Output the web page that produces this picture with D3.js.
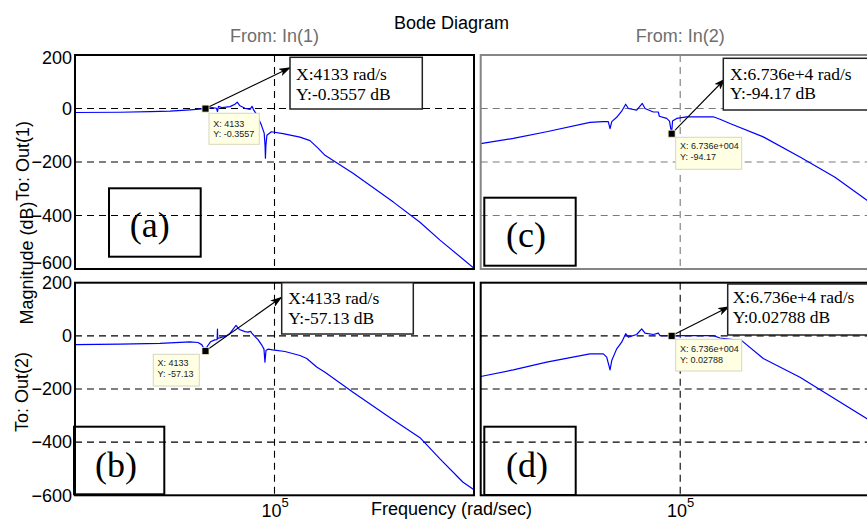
<!DOCTYPE html>
<html>
<head>
<meta charset="utf-8">
<script src="https://cdn.jsdelivr.net/npm/d3@7"></script>
<style>
  html, body { margin: 0; padding: 0; background: #fff; }
  svg { display: block; }
</style>
</head>
<body>
<svg id="chart" width="867" height="521"></svg>
<script>
// ---- Frequency response data (frequency in rad/s, magnitude in dB) ----
const freqA = [10, 80, 319, 804, 2020, 4133, 5590, 6870, 7190, 7530, 8850, 12800, 16100, 17900, 20300,
  25600, 32300, 35400, 37900, 44600, 54600, 62100, 64600, 65800, 67300, 70500, 86500, 148000, 324000,
  515000, 745000, 1030000, 3750000, 23800000, 82600000, 208000000, 1000000000];
const magA = [-15, -14, -12, -10, -5, -0.3557, 3, 1, -12, 8, 3, 7, 16, 24, 10,
  1, -3, 8, -4, -25, -62, -92, -137, -186, -137, -100, -87, -94, -107,
  -120, -148, -175, -242, -349, -425, -492, -597];

const freqB = [10, 80, 506, 2020, 2920, 3470, 4133, 4470, 5250, 6310, 7080, 7180, 7280, 8910, 10200,
  12800, 16900, 19700, 25600, 29400, 33300, 35400, 40600, 46700, 56100, 61500, 64400, 67500, 74100,
  92000, 162000, 324000, 443000, 701000, 1030000, 3750000, 23800000, 82600000, 208000000, 603000000, 1000000000];
const magB = [-33, -31, -28, -23, -25, -33, -57.13, -40, -22, -15, -14, 25, -10, -5, -3,
  9, 39, 24, 16, 14, 17, 9, -3, -14, -36, -50, -99, -55, -50,
  -53, -59, -74, -85, -117, -137, -212, -316, -383, -463, -551, -579];

const freqC = [10, 45.1, 210, 1550, 2830, 3610, 3920, 4240, 5330, 6710, 8070, 9120, 13400, 17400, 19700,
  28900, 36400, 38100, 53600, 61000, 67360, 70200, 85100, 135000, 461000, 628000, 995000, 4630000,
  25200000, 127000000, 556000000, 1000000000];
const magC = [-131, -112, -87, -52, -49, -49, -75, -49, -33, -10, 16, 0, -6, 19, 0,
  -13, -13, -29, -37, -47, -94.17, -47, -37, -31, -31, -40, -56, -106,
  -181, -257, -343, -375];

const freqD = [10, 45.1, 210, 1550, 2870, 3360, 3920, 4240, 5330, 6710, 8070, 9120, 13400, 16900, 19700,
  28900, 36400, 39400, 57700, 67360, 99100, 461000, 628000, 1710000, 4630000, 25200000, 556000000, 1000000000];
const magD = [-153, -128, -99, -68, -68, -80, -128, -93, -49, -24, 8, -5, 5, 26, 10,
  5, 10, 1, 1, 0.02788, 1, 1, -8, -18, -85, -156, -312, -345];

// ---- Axis values and labels ----
const freqDomain = [1e1, 1e9];
const magDomain = [-600, 200];
const magTicks = [200, 0, -200, -400, -600];
const magGrid = [0, -200, -400];
const freqTicks = [1e5];

// ---- Data tips (selected points) ----
const tipFreq = [4133, 4133, 67360, 67360];
const tipMag = [-0.3557, -57.13, -94.17, 0.02788];
const tipFreqText = ["4133", "4133", "6.736e+004", "6.736e+004"];
const tipMagText = ["-0.3557", "-57.13", "-94.17", "0.02788"];
const noteFreqText = ["4133", "4133", "6.736e+4", "6.736e+4"];
const noteMagText = ["-0.3557", "-57.13", "-94.17", "0.02788"];
const panelLetters = ["(a)", "(b)", "(c)", "(d)"];

const title = "Bode Diagram";
const colTitles = ["From: In(1)", "From: In(2)"];
const rowTitles = ["To: Out(1)", "To: Out(2)"];

// ---- Layout ----
const svg = d3.select("#chart");
const cols = [{ x0: 75, x1: 474 }, { x0: 480.7, x1: 879.7 }];
const rows = [{ y0: 55, y1: 269 }, { y0: 282.7, y1: 495.3 }];

const panels = [
  { key: "a", col: 0, row: 0, freq: freqA, mag: magA, frame: "#000", grid: "#000",
    note: { x: 290, y: 57.3, w: 132.3, h: 51.7, tx: 296, b1: 80, b2: 100, ax: 290, ay: 67.7 },
    tip: { x: 209, y: 113.3, w: 50.3, h: 31, b1: 126.7, b2: 136.7 },
    lab: { x: 109, y: 188.3, w: 91.7, h: 68.4, cx: 149.8, b: 237 } },
  { key: "b", col: 0, row: 1, freq: freqB, mag: magB, frame: "#000", grid: "#000",
    note: { x: 281.7, y: 282.7, w: 131.6, h: 51.3, tx: 288.3, b1: 304, b2: 324, ax: 281.5, ay: 297.3 },
    tip: { x: 153.3, y: 354.3, w: 46, h: 31.7, b1: 366, b2: 377.3 },
    lab: { x: 74, y: 426.7, w: 90.3, h: 67.6, cx: 116, b: 477.3 } },
  { key: "c", col: 1, row: 0, freq: freqC, mag: magC, frame: "#858585", grid: "#7a7a7a",
    note: { x: 723.3, y: 58.3, w: 152, h: 51.7, tx: 730, b1: 80, b2: 99.3, ax: 725, ay: 79 },
    tip: { x: 675.7, y: 137.3, w: 66, h: 32, b1: 149.3, b2: 160 },
    lab: { x: 484.3, y: 197.7, w: 91.4, h: 68, cx: 526, b: 246.7 } },
  { key: "d", col: 1, row: 1, freq: freqD, mag: magD, frame: "#000", grid: "#000",
    note: { x: 727.7, y: 284, w: 152, h: 51, tx: 732.7, b1: 303.3, b2: 323.3, ax: 729, ay: 306.7 },
    tip: { x: 675.7, y: 339.3, w: 66, h: 31.7, b1: 351.7, b2: 362.7 },
    lab: { x: 484.3, y: 426.7, w: 91.4, h: 68.3, cx: 527, b: 477.3 } }
];

const defs = svg.append("defs");
defs.append("marker")
  .attr("id", "arrowhead")
  .attr("markerUnits", "userSpaceOnUse")
  .attr("viewBox", "0 0 12 8")
  .attr("markerWidth", 12).attr("markerHeight", 8)
  .attr("refX", 11).attr("refY", 4)
  .attr("orient", "auto")
  .append("path")
  .attr("d", "M0,0 L12,4 L0,8 L3,4 Z")
  .attr("fill", "#000");

const sans = "Arial, 'Liberation Sans', Helvetica, sans-serif";
const serif = "'Times New Roman', 'Liberation Serif', Times, serif";

// Titles
svg.append("text").attr("x", 451.5).attr("y", 28.5)
  .attr("text-anchor", "middle").attr("font-family", sans).attr("font-size", 18)
  .attr("fill", "#000").text(title);

colTitles.forEach((t, i) => {
  svg.append("text")
    .attr("x", (cols[i].x0 + cols[i].x1) / 2)
    .attr("y", 41.5)
    .attr("text-anchor", "middle").attr("font-family", sans).attr("font-size", 18)
    .attr("fill", "#6e6e6e")
    .text(t);
});

// Row / axis labels (rotated)
function vtext(x, y, t) {
  svg.append("text")
    .attr("transform", `translate(${x},${y}) rotate(-90)`)
    .attr("text-anchor", "middle").attr("font-family", sans).attr("font-size", 18)
    .attr("fill", "#000").text(t);
}
vtext(33, 263, "Magnitude (dB)");
vtext(29, 161, rowTitles[0]);
vtext(28, 392, rowTitles[1]);

svg.append("text").attr("x", 451.5).attr("y", 514.5)
  .attr("text-anchor", "middle").attr("font-family", sans).attr("font-size", 18)
  .attr("fill", "#000").text("Frequency  (rad/sec)");

panels.forEach((p, i) => {
  const c = cols[p.col], r = rows[p.row];
  const x = d3.scaleLog().domain(freqDomain).range([c.x0, c.x1]);
  const y = d3.scaleLinear().domain(magDomain).range([r.y1, r.y0]);
  const g = svg.append("g").attr("class", "panel-" + p.key);

  defs.append("clipPath").attr("id", "clip-" + p.key)
    .append("rect").attr("x", c.x0).attr("y", r.y0)
    .attr("width", c.x1 - c.x0).attr("height", r.y1 - r.y0);

  // grid
  const gridG = g.append("g").attr("clip-path", `url(#clip-${p.key})`);
  gridG.selectAll("line.hg").data(magGrid).join("line")
    .attr("x1", c.x0).attr("x2", c.x1)
    .attr("y1", d => y(d)).attr("y2", d => y(d))
    .attr("stroke", p.grid).attr("stroke-width", 1.1).attr("stroke-dasharray", "7,5");
  gridG.selectAll("line.vg").data(freqTicks).join("line")
    .attr("x1", d => x(d)).attr("x2", d => x(d))
    .attr("y1", r.y0).attr("y2", r.y1)
    .attr("stroke", p.grid).attr("stroke-width", 1.1).attr("stroke-dasharray", "7,5");

  // magnitude curve
  const pts = p.freq.map((f, k) => [f, p.mag[k]]);
  gridG.append("path")
    .datum(pts)
    .attr("fill", "none").attr("stroke", "#0000ff").attr("stroke-width", 1.2)
    .attr("stroke-linejoin", "round")
    .attr("d", d3.line().x(d => x(d[0])).y(d => y(d[1])));

  // frame
  g.append("rect").attr("x", c.x0).attr("y", r.y0)
    .attr("width", c.x1 - c.x0).attr("height", r.y1 - r.y0)
    .attr("fill", "none").attr("stroke", p.frame).attr("stroke-width", 2);

  // y axis labels on left column
  if (p.col === 0) {
    const ya = d3.axisLeft(y).tickValues(magTicks).tickSize(0).tickPadding(3).tickFormat(d3.format("d"));
    const ag = g.append("g").attr("transform", `translate(${c.x0},0)`).call(ya);
    ag.select(".domain").remove();
    ag.selectAll("text").attr("font-family", sans).attr("font-size", 18).attr("fill", "#000");
    // the lowest label of the upper row sits a little higher, as the rows touch
    if (p.row === 0) {
      ag.selectAll(".tick").filter(d => d === magDomain[0]).select("text").attr("dy", "-0.05em");
      ag.selectAll(".tick").filter(d => d === magDomain[1]).select("text").attr("dy", "0.45em");
    }
  }
  // x axis label on bottom row
  if (p.row === 1) {
    const xa = d3.axisBottom(x).tickValues(freqTicks).tickSize(0).tickFormat("");
    const ag = g.append("g").attr("transform", `translate(0,${r.y1})`).call(xa);
    ag.select(".domain").remove();
    ag.selectAll(".tick").each(function (d) {
      const t = d3.select(this).append("text")
        .attr("y", 21.5).attr("text-anchor", "middle")
        .attr("font-family", sans).attr("font-size", 18).attr("fill", "#000");
      t.append("tspan").text("10");
      t.append("tspan").attr("font-size", 13).attr("dy", -10).text(String(Math.round(Math.log10(d))));
    });
  }

  const mx = x(tipFreq[i]), my = y(tipMag[i]);

  // data tip box
  g.append("rect").attr("x", p.tip.x).attr("y", p.tip.y)
    .attr("width", p.tip.w).attr("height", p.tip.h)
    .attr("fill", "#ffffe4").attr("stroke", "#d9d6bf").attr("stroke-width", 1);
  g.append("text").attr("x", p.tip.x + 4.3).attr("y", p.tip.b1)
    .attr("font-family", sans).attr("font-size", 9).attr("fill", "#222")
    .text("X: " + tipFreqText[i]);
  g.append("text").attr("x", p.tip.x + 4.3).attr("y", p.tip.b2)
    .attr("font-family", sans).attr("font-size", 9).attr("fill", "#222")
    .text("Y: " + tipMagText[i]);

  // arrow from the marked point to its note
  g.append("line").attr("x1", mx).attr("y1", my).attr("x2", p.note.ax).attr("y2", p.note.ay)
    .attr("stroke", "#000").attr("stroke-width", 1.1).attr("marker-end", "url(#arrowhead)");

  // marker
  g.append("rect").attr("x", mx - 3.5).attr("y", my - 3.5).attr("width", 7).attr("height", 7)
    .attr("fill", "#000").attr("stroke", "#f3efc0").attr("stroke-width", 0.8);

  // note box
  g.append("rect").attr("x", p.note.x).attr("y", p.note.y)
    .attr("width", p.note.w).attr("height", p.note.h)
    .attr("fill", "#fff").attr("stroke", "#222").attr("stroke-width", 1.5);
  g.append("text").attr("x", p.note.tx).attr("y", p.note.b1)
    .attr("font-family", serif).attr("font-size", 17.5).attr("fill", "#000")
    .text("X:" + noteFreqText[i] + " rad/s");
  g.append("text").attr("x", p.note.tx).attr("y", p.note.b2)
    .attr("font-family", serif).attr("font-size", 17.5).attr("fill", "#000")
    .text("Y:" + noteMagText[i] + " dB");

  // panel letter box
  g.append("rect").attr("x", p.lab.x).attr("y", p.lab.y)
    .attr("width", p.lab.w).attr("height", p.lab.h)
    .attr("fill", "none").attr("stroke", "#000").attr("stroke-width", 2);
  g.append("text").attr("x", p.lab.cx).attr("y", p.lab.b)
    .attr("text-anchor", "middle").attr("font-family", serif).attr("font-size", 36)
    .attr("fill", "#000").text(panelLetters[i]);
});
</script>
</body>
</html>
